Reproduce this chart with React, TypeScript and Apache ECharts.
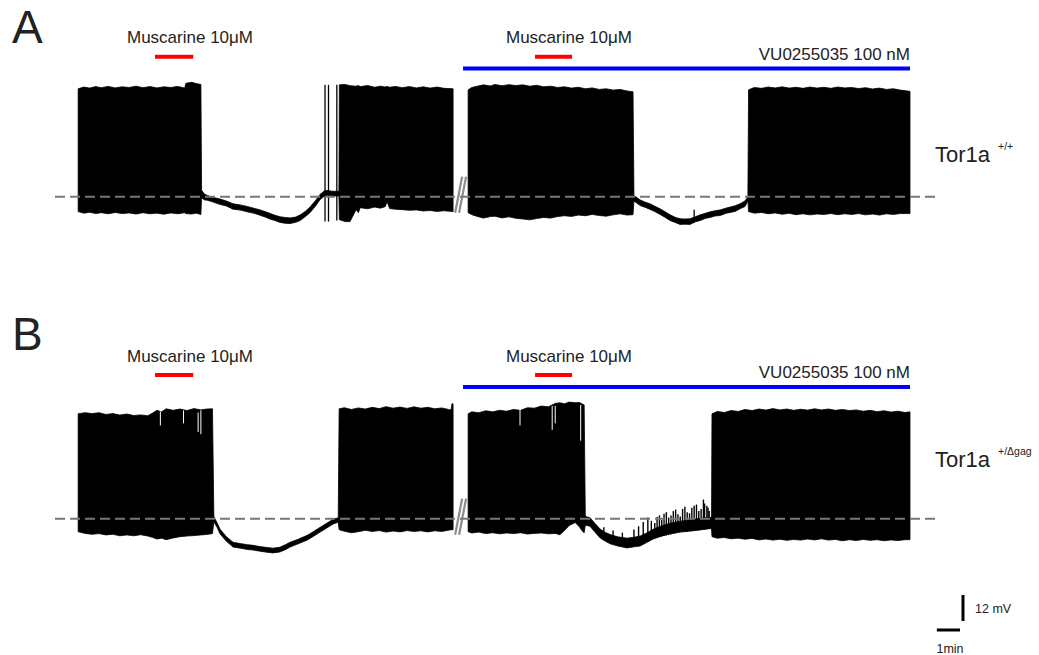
import React, { useEffect, useRef } from "react";
import * as echarts from "echarts";

// ---- data (time in minutes, membrane potential in mV relative to the dashed baseline) ----
// envelope points: [time, upper envelope, lower envelope]
const traceA1: number[][] = [
  [0, 49.8, -6.9], [0.25, 50.6, -7.6], [0.5, 50.1, -7.2], [0.75, 50.8, -7.8], [1.0, 50.3, -7.4],
  [1.3, 50.9, -7.9], [1.6, 50.2, -7.3], [1.9, 50.7, -7.8], [2.2, 50.4, -7.5], [2.5, 51.0, -8.0],
  [2.8, 50.3, -7.4], [3.1, 50.8, -7.9], [3.4, 50.2, -7.6], [3.7, 50.7, -8.1], [4.0, 50.4, -7.5],
  [4.3, 50.9, -7.9], [4.6, 50.1, -7.4], [4.65, 52.3, -7.8], [4.9, 52.8, -8.0], [5.1, 52.2, -7.6],
  [5.3, 51.8, -8.2],
  [5.33, 3.0, -0.5], [5.45, 1.2, -1.5], [5.57, 0.6, -1.6], [5.8, -0.3, -2.4], [6.1, -1.0, -3.5],
  [6.4, -2.0, -4.3], [6.69, -3.3, -5.8], [7.0, -3.8, -6.2], [7.3, -4.5, -7.0], [7.6, -5.4, -7.7],
  [7.86, -6.1, -8.6], [8.1, -7.0, -9.5], [8.3, -7.8, -10.4], [8.5, -8.6, -11.0], [8.72, -9.3, -11.9],
  [8.95, -9.6, -12.3], [9.16, -9.8, -12.4], [9.4, -9.4, -11.8], [9.59, -8.4, -11.0], [9.8, -6.9, -9.3],
  [10.02, -4.7, -7.3], [10.25, -1.8, -4.3], [10.45, 1.1, -1.3], [10.66, 2.9, 0.5],
  [11.0, 2.5, 0.3], [11.26, 2.5, 0.3],
  [11.28, 51.6, -10.6], [11.53, 51.8, -11.5], [11.74, 51.2, -11.5], [12.0, 51.0, -6.0], [12.1, 51.3, -7.4],
  [12.18, 50.8, -5.1], [12.5, 51.3, -5.6], [12.8, 50.5, -4.8], [13.05, 51.0, -5.3], [13.26, 50.6, -4.6],
  [13.34, 50.9, -2.3], [13.45, 50.5, -5.5], [13.7, 50.9, -5.8], [14.0, 50.3, -6.0], [14.3, 50.8, -6.3],
  [14.6, 50.2, -6.1], [14.9, 50.7, -6.6], [15.2, 50.1, -6.4], [15.5, 50.6, -6.8], [15.8, 50.0, -6.5],
  [16.19, 49.8, -6.9],
];
const traceA2: number[][] = [
  [16.84, 49.3, -7.4], [17.0, 50.4, -8.3], [17.2, 50.9, -9.0], [17.5, 51.6, -9.9], [17.8, 51.1, -9.2],
  [18.0, 51.8, -9.0], [18.3, 51.2, -9.8], [18.6, 51.7, -9.3], [18.9, 51.3, -10.0], [19.2, 51.6, -10.3],
  [19.5, 51.0, -10.7], [19.8, 51.4, -10.1], [20.1, 50.7, -9.6], [20.4, 51.0, -9.9], [20.7, 50.4, -9.2],
  [21.0, 50.7, -8.8], [21.3, 50.1, -9.1], [21.6, 50.5, -8.5], [21.9, 49.8, -8.8], [22.2, 50.2, -8.2],
  [22.5, 49.5, -8.7], [22.8, 49.8, -9.0], [23.1, 49.2, -8.4], [23.4, 49.5, -7.9], [23.7, 48.8, -8.5],
  [23.96, 48.4, -8.3],
  [24.0, 0.5, -2.0], [24.27, -1.5, -4.1], [24.5, -2.6, -5.0], [24.7, -3.3, -5.9], [24.9, -4.4, -6.9],
  [25.13, -5.6, -8.2], [25.35, -7.0, -9.6], [25.56, -8.4, -11.0], [25.8, -9.6, -12.0], [25.99, -10.2, -12.8],
  [26.2, -10.3, -12.7], [26.42, -10.2, -12.8], [26.65, -9.3, -11.6], [26.86, -8.4, -11.0], [27.1, -7.6, -10.0],
  [27.29, -7.0, -9.6], [27.5, -6.5, -8.9], [27.72, -6.1, -8.7], [28.0, -5.2, -7.6], [28.37, -4.2, -6.8],
  [28.6, -3.2, -5.5], [28.8, -1.9, -4.5], [28.92, 0, -1.9],
  [28.95, 49.3, -6.9], [29.2, 50.4, -7.6], [29.5, 50.0, -7.3], [29.8, 50.6, -7.9], [30.1, 50.2, -7.5],
  [30.4, 50.7, -8.1], [30.7, 50.1, -7.7], [31.0, 50.5, -8.3], [31.3, 50.0, -7.9], [31.6, 50.6, -8.4],
  [31.9, 50.1, -8.0], [32.2, 50.5, -8.2], [32.5, 50.0, -7.8], [32.8, 50.6, -8.3], [33.1, 50.2, -7.9],
  [33.4, 50.4, -8.2], [33.7, 49.9, -7.8], [34.0, 50.3, -8.4], [34.3, 49.7, -8.0], [34.6, 50.1, -8.5],
  [34.9, 49.5, -7.9], [35.2, 49.8, -8.2], [35.5, 49.2, -7.8], [35.92, 48.6, -7.8],
];
const traceB1: number[][] = [
  [0, 48.4, -6.0], [0.3, 48.9, -6.8], [0.6, 48.5, -7.2], [0.9, 48.9, -6.9], [1.2, 48.1, -7.5],
  [1.5, 48.5, -7.2], [1.8, 47.8, -7.9], [2.1, 48.3, -7.5], [2.4, 47.6, -7.9], [2.7, 47.9, -7.4],
  [3.0, 47.5, -8.0], [3.2, 48.6, -8.6], [3.4, 50.0, -9.4], [3.6, 49.3, -9.0], [3.8, 50.7, -9.7],
  [4.1, 50.0, -8.9], [4.4, 50.6, -8.3], [4.7, 49.9, -8.0], [5.0, 50.8, -7.8], [5.3, 50.2, -7.5],
  [5.55, 50.6, -7.3], [5.8, 50.7, -6.9],
  [5.86, 1.0, -1.5], [6.0, -2.0, -4.0], [6.13, -4.9, -7.1], [6.4, -8.3, -10.4], [6.69, -10.9, -13.1],
  [7.0, -11.5, -13.6], [7.3, -12.0, -14.2], [7.56, -12.3, -14.5], [7.85, -12.9, -15.0], [8.15, -13.3, -15.5],
  [8.42, -13.6, -15.8], [8.7, -13.2, -15.4], [8.95, -12.0, -14.3], [9.15, -10.9, -13.1], [9.5, -9.5, -11.6],
  [9.89, -7.7, -9.9], [10.15, -6.0, -8.2], [10.45, -4.0, -6.2], [10.75, -2.0, -4.2], [11.01, -0.3, -2.5],
  [11.23, 0.4, -1.6],
  [11.27, 50.7, -5.1], [11.5, 51.2, -5.8], [11.8, 50.4, -6.5], [12.1, 51.1, -6.0], [12.4, 50.6, -5.4],
  [12.7, 51.4, -5.9], [13.0, 50.8, -5.5], [13.3, 51.7, -6.2], [13.6, 51.0, -5.7], [13.9, 51.5, -6.1],
  [14.2, 50.9, -5.5], [14.5, 51.6, -5.9], [14.8, 51.0, -5.6], [15.1, 51.4, -6.1], [15.4, 50.7, -5.6],
  [15.7, 51.1, -5.9], [16.0, 50.4, -5.3], [16.1, 50.2, -5.1], [16.14, 53.0, -5.1], [16.19, 53.0, -5.1],
];
const traceB2: number[][] = [
  [16.84, 48.4, -6.0], [17.0, 49.3, -6.6], [17.3, 48.9, -6.2], [17.6, 49.8, -6.9], [17.9, 49.3, -6.5],
  [18.2, 50.0, -7.0], [18.5, 49.6, -6.6], [18.8, 50.4, -6.9], [19.1, 50.0, -6.5], [19.4, 51.2, -7.1],
  [19.7, 51.0, -6.8], [20.0, 52.0, -6.6], [20.3, 51.6, -7.0], [20.6, 53.2, -6.8], [20.8, 53.5, -7.4],
  [21.0, 53.0, -5.5], [21.2, 53.8, -3.2], [21.46, 53.5, -1.8], [21.65, 53.6, -3.8], [21.75, 53.0, -5.5],
  [21.85, 52.5, -6.5],
  [21.9, 1.0, -3.0], [22.1, 0.5, -3.5], [22.3, -2.0, -6.0], [22.54, -4.8, -8.9], [22.75, -6.3, -10.3],
  [22.97, -7.3, -11.6], [23.3, -8.4, -12.6], [23.7, -9.0, -13.5], [24.0, -8.6, -13.0], [24.27, -8.0, -12.6],
  [24.55, -6.6, -11.0], [24.83, -4.9, -9.4], [25.2, -3.3, -8.0], [25.56, -2.1, -7.0], [26.0, -1.2, -6.2],
  [26.55, -0.3, -5.6], [27.0, 0.3, -5.0], [27.29, 0.6, -4.6], [27.35, 0.6, -4.6],
  [27.37, 48.4, -8.3], [27.6, 49.5, -9.0], [27.9, 49.0, -8.7], [28.2, 49.9, -9.3], [28.5, 49.5, -9.0],
  [28.8, 50.4, -9.5], [29.1, 49.9, -9.1], [29.4, 50.6, -9.8], [29.7, 50.1, -9.4], [30.0, 50.8, -9.9],
  [30.3, 50.2, -9.5], [30.6, 50.6, -10.0], [30.9, 50.0, -9.6], [31.2, 50.5, -9.9], [31.5, 50.1, -9.4],
  [31.8, 50.7, -9.8], [32.1, 50.2, -9.3], [32.4, 50.6, -9.9], [32.7, 50.0, -9.6], [33.0, 50.4, -10.2],
  [33.3, 49.9, -9.7], [33.6, 50.2, -10.1], [33.9, 49.6, -9.6], [34.2, 50.0, -10.0], [34.5, 49.4, -9.7],
  [34.8, 49.8, -10.2], [35.1, 49.2, -9.8], [35.4, 49.6, -10.1], [35.7, 49.0, -9.7], [35.92, 49.3, -9.7],
];
// single action potentials / small spikes: [time, peak, trough]
const spikesA: number[][] = [
  [10.66, 51.6, -11.5], [10.81, 51.6, -11.5], [11.17, 51.6, -11.0], [26.6, -6.0, -12.0],
];
const spikesB: number[][] = [
  [22.7, -4.0, -10], [23.1, -5.5, -11.5], [23.5, -6.5, -12.5], [24.0, -5.0, -12.0], [24.2, -3.5, -12.3],
  [24.4, -1.5, -11.0], [24.6, 0.5, -10.0], [24.75, -1.0, -9.6], [24.9, -2.0, -9.0], [25.0, 0.8, -8.8],
  [25.1, 1.5, -8.5], [25.2, -0.5, -8.2], [25.3, 2.3, -8.0], [25.4, 3.0, -7.8], [25.5, 0.5, -7.5],
  [25.6, 1.5, -7.3], [25.7, 3.5, -7.0], [25.8, 4.2, -6.8], [25.9, 2.0, -6.5], [26.0, 1.0, -6.3],
  [26.1, 4.5, -6.0], [26.2, 5.5, -6.0], [26.3, 3.0, -6.0], [26.4, 2.5, -5.8], [26.5, 5.0, -5.5],
  [26.6, 6.0, -5.6], [26.7, 6.5, -5.5], [26.8, 3.5, -5.3], [26.9, 4.5, -5.0], [27.0, 8.8, -5.0],
  [27.05, 7.0, -5.0], [27.15, 6.0, -4.8], [27.2, 5.0, -4.7], [27.25, 3.5, -4.6],
];
// missing spike tops (white notches): [time, top, bottom]
const notchesB: number[][] = [
  [3.55, 49.5, 43.0], [4.55, 50.0, 44.0], [5.18, 49.0, 40.0], [5.3, 50.0, 39.0],
  [19.08, 51.0, 43.0], [20.47, 52.0, 41.0], [20.6, 52.0, 44.0], [21.7, 52.5, 36.0],
];
// drug application periods [start, end] in minutes
const muscarineA: number[][] = [[3.32, 4.97], [19.73, 21.33]];
const muscarineB: number[][] = [[3.32, 4.97], [19.73, 21.33]];
const vuA: number[] = [16.62, 35.92];
const vuB: number[] = [16.62, 35.92];
const barLevelA = { red: 64.6, blue: 59.1 };
const barLevelB = { red: 66.3, blue: 60.8 };
// recording break marks "//": [t1, y1, t2, y2]
const breakMarks: number[][] = [[16.28, -7.4, 16.58, 9.2], [16.45, -7.4, 16.75, 9.2]];
const baseline: number[][] = [[-1, 0], [37, 0]];
const scaleMv = 12;
const scaleMin = 1;

const X_MIN = -1, X_MAX = 37, Y_MIN = -20, Y_MAX = 70;
const GRID_LEFT = 55, GRID_W = 880, GRID_H = 195;
const FONT = "'Liberation Sans', Arial, Helvetica, sans-serif";
const TXT = "#222";

function envelopeSeries(segments: number[][][], gi: number) {
  return {
    type: "custom",
    xAxisIndex: gi, yAxisIndex: gi,
    clip: false, z: 2,
    data: segments.map((s) => [s[0][0], s[s.length - 1][0]]),
    encode: { x: [0, 1] },
    renderItem: (params: any, api: any) => {
      const seg = segments[params.dataIndex];
      const up = seg.map((p) => api.coord([p[0], p[1]]));
      const lo = seg.slice().reverse().map((p) => api.coord([p[0], p[2]]));
      return {
        type: "polygon",
        shape: { points: up.concat(lo) },
        style: { fill: "#000", stroke: "#000", lineWidth: 0.8 },
      };
    },
  };
}

function vlineSeries(data: number[][], gi: number, color: string, w: number, z: number) {
  return {
    type: "custom",
    xAxisIndex: gi, yAxisIndex: gi, clip: false, z,
    data,
    encode: { x: 0, y: [1, 2] },
    renderItem: (params: any, api: any) => {
      const a = api.coord([api.value(0), api.value(1)]);
      const b = api.coord([api.value(0), api.value(2)]);
      return { type: "line", shape: { x1: a[0], y1: a[1], x2: b[0], y2: b[1] }, style: { stroke: color, lineWidth: w } };
    },
  };
}

function breakSeries(gi: number) {
  return {
    type: "custom",
    xAxisIndex: gi, yAxisIndex: gi, clip: false, z: 3,
    data: breakMarks,
    encode: { x: [0, 2], y: [1, 3] },
    renderItem: (params: any, api: any) => {
      const a = api.coord([api.value(0), api.value(1)]);
      const b = api.coord([api.value(2), api.value(3)]);
      return { type: "line", shape: { x1: a[0], y1: a[1], x2: b[0], y2: b[1] }, style: { stroke: "#8c8c8c", lineWidth: 2.2 } };
    },
  };
}

function lineSeries(data: any[], gi: number, color: string, width: number, dashed: boolean, z: number) {
  return {
    type: "line", xAxisIndex: gi, yAxisIndex: gi, data, symbol: "none", silent: true, z,
    lineStyle: { color, width, type: dashed ? [10, 5] : "solid", cap: "butt" },
  };
}

function barSeries(periods: number[][], level: number, gi: number, color: string) {
  const d: any[] = [];
  periods.forEach((p, i) => {
    if (i > 0) d.push([null, null]);
    d.push([p[0], level], [p[1], level]);
  });
  return { ...lineSeries(d, gi, color, 4, false, 4), connectNulls: false };
}

function txt(text: string, x: number, y: number, size: number, align = "left", color = TXT) {
  return {
    type: "text", x, y,
    style: { text, fill: color, font: `${size}px ${FONT}`, textAlign: align, textVerticalAlign: "middle" },
  };
}

export default function App() {
  const ref = useRef<HTMLDivElement>(null);
  useEffect(() => {
    if (!ref.current) return;
    const chart = echarts.init(ref.current, null, { renderer: "svg" });
    const pxPerMv = GRID_H / (Y_MAX - Y_MIN);
    const pxPerMin = GRID_W / (X_MAX - X_MIN);
    const sbX = 963, sbBottom = 621;
    const grids = [
      { left: GRID_LEFT, top: 45, width: GRID_W, height: GRID_H },
      { left: GRID_LEFT, top: 367, width: GRID_W, height: GRID_H },
    ];
    const xAxis = [0, 1].map((i) => ({ type: "value", gridIndex: i, min: X_MIN, max: X_MAX, show: false }));
    const yAxis = [0, 1].map((i) => ({ type: "value", gridIndex: i, min: Y_MIN, max: Y_MAX, show: false }));
    const option: any = {
      animation: false,
      backgroundColor: "#fff",
      grid: grids,
      xAxis,
      yAxis,
      series: [
        envelopeSeries([traceA1, traceA2], 0),
        envelopeSeries([traceB1, traceB2], 1),
        vlineSeries(spikesA, 0, "#000", 1.3, 2),
        vlineSeries(spikesB, 1, "#000", 1.4, 2),
        vlineSeries(notchesB, 1, "#fff", 1.0, 2.5),
        breakSeries(0),
        breakSeries(1),
        lineSeries(baseline, 0, "#777", 2, true, 5),
        lineSeries(baseline, 1, "#777", 2, true, 5),
        barSeries(muscarineA, barLevelA.red, 0, "#ff0000"),
        barSeries(muscarineB, barLevelB.red, 1, "#ff0000"),
        barSeries([vuA], barLevelA.blue, 0, "#0000ff"),
        barSeries([vuB], barLevelB.blue, 1, "#0000ff"),
      ],
      graphic: [
        txt("A", 12, 27, 46),
        txt("B", 12, 334, 46),
        txt("Muscarine 10μM", 190, 37, 17, "center"),
        txt("Muscarine 10μM", 569, 37, 17, "center"),
        txt("VU0255035 100 nM", 910, 54, 17, "right"),
        txt("Muscarine 10μM", 190, 356, 17, "center"),
        txt("Muscarine 10μM", 569, 356, 17, "center"),
        txt("VU0255035 100 nM", 910, 372, 17, "right"),
        txt("Tor1a", 935, 154, 22),
        txt("+/+", 998, 146, 10.5),
        txt("Tor1a", 935, 459, 22),
        txt("+/Δgag", 998, 451, 10.5),
        {
          type: "line",
          shape: { x1: sbX, y1: sbBottom, x2: sbX, y2: sbBottom - scaleMv * pxPerMv },
          style: { stroke: "#000", lineWidth: 3 },
        },
        {
          type: "line",
          shape: { x1: sbX - 3 - scaleMin * pxPerMin, y1: 630, x2: sbX - 3, y2: 630 },
          style: { stroke: "#000", lineWidth: 3 },
        },
        txt("12 mV", 975, 609, 12.5),
        txt("1min", 950, 649, 12.5, "center"),
      ],
    };
    chart.setOption(option);
    return () => chart.dispose();
  }, []);
  return (
    <div
      ref={ref}
      style={{ position: "absolute", left: 0, top: 0, width: 1039, height: 655, background: "#fff" }}
    />
  );
}
